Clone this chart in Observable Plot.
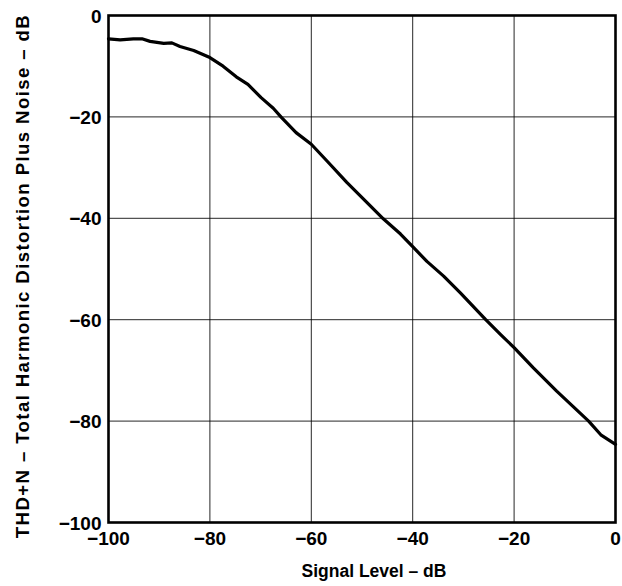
<!DOCTYPE html>
<html>
<head>
<meta charset="utf-8">
<script src="https://cdn.jsdelivr.net/npm/d3@7"></script>
<script src="https://cdn.jsdelivr.net/npm/@observablehq/plot@0.6"></script>
<style>
  html, body { margin: 0; padding: 0; background: #fff; }
  svg text { font-weight: bold !important; font-family: 'Liberation Sans', Arial, sans-serif; }
</style>
</head>
<body>
<div id="chart"></div>
<script>
const signalLevel = [-100, -97.7, -95.1, -93.4, -91.8, -89.1, -87.5, -85.9, -83.2, -80, -77.4, -74.8, -72.5, -69.9, -67.5, -65.9, -63, -60, -56.9, -53, -49, -45.8, -42.4, -40, -37.2, -33.9, -30.6, -25.6, -22.7, -20, -16.2, -11.6, -5.3, -2.9, 0];
const thdn = [-4.6, -4.8, -4.6, -4.6, -5.1, -5.5, -5.4, -6.1, -6.9, -8.3, -10.0, -12.1, -13.6, -16.2, -18.3, -20.1, -23.1, -25.4, -28.7, -32.9, -36.9, -40.1, -43.1, -45.6, -48.5, -51.4, -54.7, -60, -62.9, -65.5, -69.5, -74.1, -80, -82.7, -84.6];
const xTicks = [-100, -80, -60, -40, -20, 0];
const yTicks = [-100, -80, -60, -40, -20, 0];
const xLabel = "Signal Level – dB";
const yLabel = "THD+N – Total Harmonic Distortion Plus Noise – dB";

const data = signalLevel.map((x, i) => ({x, y: thdn[i]}));

const chart = Plot.plot({
  width: 622,
  height: 586,
  marginLeft: 108,
  marginRight: 7,
  marginTop: 15,
  marginBottom: 64,
  style: {fontFamily: "'Liberation Sans', Arial, sans-serif", fontWeight: "bold", fontSize: "17px", color: "#000", background: "#fff"},
  x: {domain: [-100, 0]},
  y: {domain: [-100, 0]},
  marks: [
    Plot.gridX(xTicks, {stroke: "#000", strokeOpacity: 0.85, strokeWidth: 1}),
    Plot.gridY(yTicks, {stroke: "#000", strokeOpacity: 0.85, strokeWidth: 1}),
    Plot.line(data, {x: "x", y: "y", stroke: "#000", strokeWidth: 3.2, curve: "linear"}),
    Plot.frame({stroke: "#000", strokeWidth: 2.6}),
    Plot.axisX(xTicks, {tickSize: 0, tickPadding: 9, label: null, fontSize: 19}),
    Plot.axisY(yTicks, {tickSize: 0, tickPadding: 7, dy: 1, label: null, fontSize: 19}),
    Plot.text([xLabel], {frameAnchor: "bottom", text: d => d, dx: 12, dy: 54, lineAnchor: "bottom", textAnchor: "middle", fontSize: 17.5}),
    Plot.text([yLabel], {frameAnchor: "left", text: d => d, rotate: -90, dx: -80, dy: 7, lineAnchor: "bottom", textAnchor: "middle", fontSize: 18.6})
  ]
});
d3.select(chart).selectAll("text").filter(function() { return this.textContent === yLabel; })
  .style("letter-spacing", "1.4px");
document.getElementById("chart").appendChild(chart);
</script>
</body>
</html>
